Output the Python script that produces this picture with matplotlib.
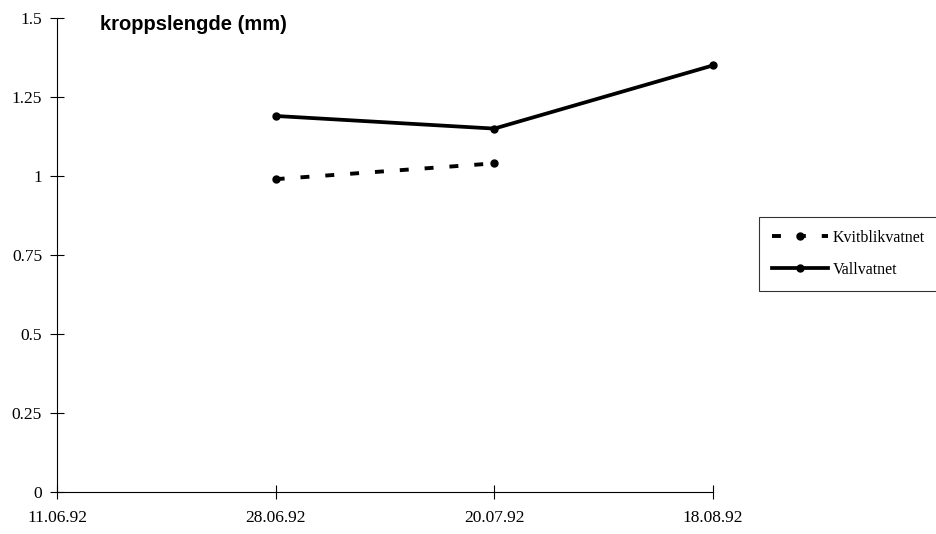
import matplotlib
matplotlib.use("Agg")
import matplotlib.pyplot as plt

dates = ["11.06.92", "28.06.92", "20.07.92", "18.08.92"]
kvit_x = [1, 2]
kvit_y = [0.99, 1.04]
vall_x = [1, 2, 3]
vall_y = [1.19, 1.15, 1.35]
yticks = [0, 0.25, 0.5, 0.75, 1, 1.25, 1.5]
yticklabels = ["0", "0.25", "0.5", "0.75", "1", "1.25", "1.5"]
title = "kroppslengde (mm)"

serif = "Liberation Serif"
fig = plt.figure(figsize=(9.37, 5.34), dpi=100)
ax = fig.add_axes([57/937, 42/534, 656/937, 474/534])

ax.plot(kvit_x, kvit_y, color="black", lw=2.8, dashes=(2.3, 4.1),
        marker="o", ms=5, label="Kvitblikvatnet", solid_capstyle="butt")
ax.plot(vall_x, vall_y, color="black", lw=2.7, marker="o", ms=5,
        label="Vallvatnet")

ax.set_xlim(0, 3)
ax.set_ylim(0, 1.5)
ax.set_xticks(range(len(dates)))
ax.set_xticklabels(dates, fontfamily=serif, fontsize=12.5)
ax.set_yticks(yticks)
ax.set_yticklabels(yticklabels, fontfamily=serif, fontsize=12.5)
ax.tick_params(axis="both", direction="inout", length=9.5, width=0.8, color="black")
ax.tick_params(axis="y", pad=6)
ax.tick_params(axis="x", pad=8)
for s in ["top", "right"]:
    ax.spines[s].set_visible(False)
for s in ["left", "bottom"]:
    ax.spines[s].set_linewidth(0.8)
for l in ax.lines:
    l.set_clip_on(False)

fig.text(100/937, 1 - 25/534, title, fontfamily="Liberation Sans",
         fontweight="bold", fontsize=14.5, va="center", ha="left")

leg = fig.legend(loc="upper left", bbox_to_anchor=(759/937, 1 - 217/534),
                 frameon=True, fancybox=False, edgecolor="black",
                 prop={"family": serif, "size": 11.5}, handlelength=3.5,
                 handletextpad=0.3, borderpad=0.8, labelspacing=1.0,
                 borderaxespad=0)
leg.get_frame().set_linewidth(0.8)

fig.savefig("out.png", dpi=100)
